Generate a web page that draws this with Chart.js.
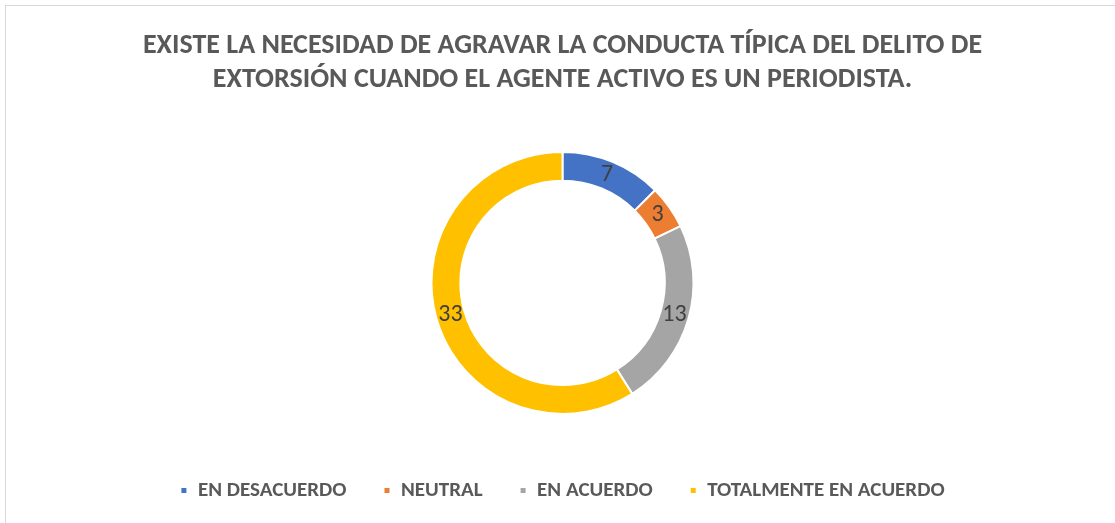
<!DOCTYPE html>
<html>
<head>
<meta charset="utf-8">
<script src="https://cdn.jsdelivr.net/npm/chart.js@4"></script>
<style>
  html, body { margin: 0; padding: 0; background: #fff; overflow: hidden; }
  .frame { position: absolute; left: 5px; top: 5px; width: 1200px; height: 600px; border: 1px solid #d9d9d9; }
  .wrap { position: absolute; left: 0; top: 0; width: 1115px; height: 523px; }
</style>
</head>
<body>
<div class="frame"></div>
<div class="wrap"><canvas id="canvas"></canvas></div>
<script>
const titleLines = [
  'EXISTE LA NECESIDAD DE AGRAVAR LA CONDUCTA TÍPICA DEL DELITO DE',
  'EXTORSIÓN CUANDO EL AGENTE ACTIVO ES UN PERIODISTA.'
];
const categories = ['EN DESACUERDO', 'NEUTRAL', 'EN ACUERDO', 'TOTALMENTE EN ACUERDO'];
const responses = [7, 3, 13, 33];
const sliceColors = ['#4472c4', '#ed7d31', '#a5a5a5', '#ffc000'];

const fontStack = "Carlito, 'Liberation Sans Narrow', 'Open Sans', sans-serif";

// draws the value of each slice in the middle of its ring
const sliceLabels = {
  id: 'sliceLabels',
  afterDatasetsDraw(chart) {
    const ctx = chart.ctx;
    const meta = chart.getDatasetMeta(0);
    ctx.save();
    ctx.font = '24px ' + fontStack;
    ctx.fillStyle = '#404040';
    ctx.textAlign = 'center';
    ctx.textBaseline = 'middle';
    meta.data.forEach((arc, i) => {
      const pos = arc.tooltipPosition();
      ctx.fillText(String(chart.data.datasets[0].data[i]), pos.x, pos.y);
    });
    ctx.restore();
  }
};

document.addEventListener('DOMContentLoaded', function () {
  const canvas = document.getElementById('canvas');

  new Chart(canvas, {
    type: 'doughnut',
    data: {
      labels: categories,
      datasets: [
        {
          data: responses,
          backgroundColor: sliceColors,
          borderColor: '#ffffff',
          borderWidth: 2,
          radius: 131,
          cutout: '78%',
        },
      ],
    },
    options: {
      responsive: true,
      maintainAspectRatio: false,
      animation: false,
      layout: { padding: { left: 10, top: 0, bottom: 12 } },
      plugins: {
        title: {
          display: true,
          text: titleLines,
          color: '#595959',
          font: { family: fontStack, size: 28, weight: 'bold', lineHeight: 1.21 },
          padding: { top: 29, bottom: 26 },
        },
        legend: {
          position: 'bottom',
          labels: {
            color: '#595959',
            font: { family: fontStack, size: 21, weight: 'bold' },
            boxWidth: 7,
            boxHeight: 7,
            padding: 37,
          },
        },
        tooltip: { enabled: false },
      },
    },
    plugins: [sliceLabels],
  });
});
</script>
</body>
</html>
